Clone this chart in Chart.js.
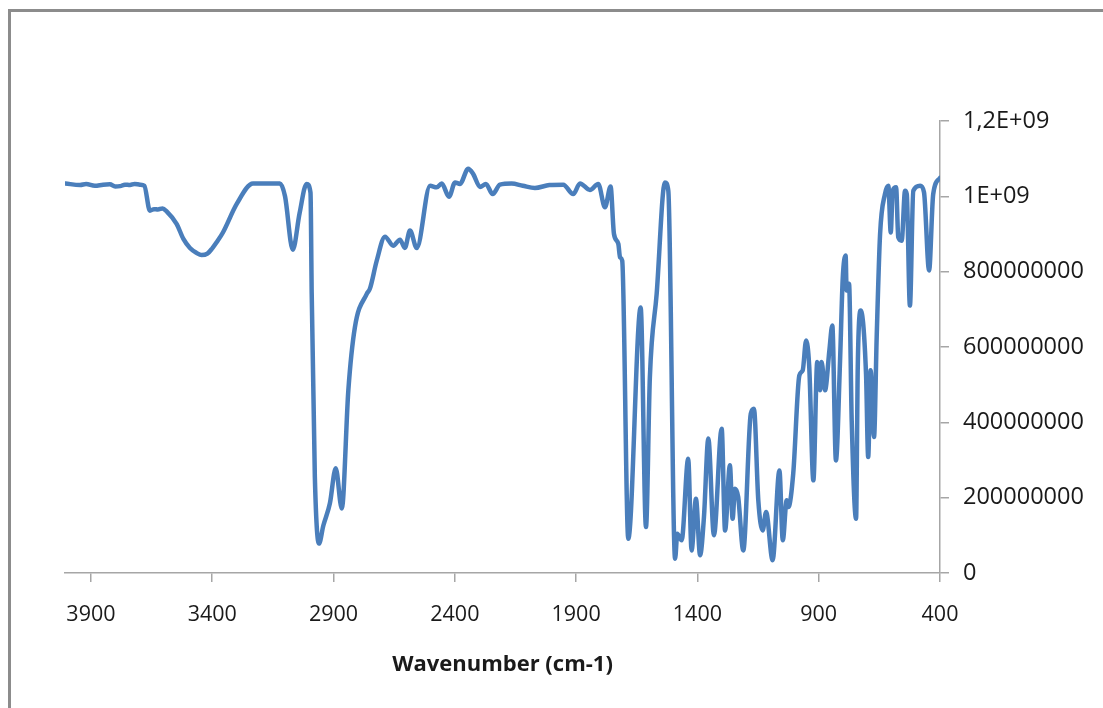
<!DOCTYPE html>
<html>
<head>
<meta charset="utf-8">
<script src="https://cdn.jsdelivr.net/npm/chart.js@4/dist/chart.umd.min.js"></script>
<style>
  html, body { margin: 0; padding: 0; background: #ffffff; }
  #wrap { position: relative; width: 1103px; height: 708px; overflow: hidden; }
  #frame { position: absolute; left: 8px; top: 9px; width: 1200px; height: 800px;
           border-left: 3px solid #8c8c8c; border-top: 3px solid #8c8c8c; }
  canvas { position: absolute; left: 0; top: 0; }
</style>
</head>
<body>
<div id="wrap">
  <div id="frame"></div>
  <canvas id="c" width="1103" height="708"></canvas>
</div>
<script>
// Wavenumbers (cm-1), left to right
const wavenumbers = [4005,3945,3920,3884,3850,3822,3800,3780,3760,3739,3720,3698,3680,3657,3640,3624,3605,3588,3547,3519,3492,3465,3444,3420,3400,3382,3356,3299,3232,3180,3121,3100,3068,3040,3011,2995,2990,2977,2960,2942,2915,2891,2866,2839,2812,2763,2750,2722,2688,2654,2626,2606,2585,2557,2502,2475,2454,2424,2399,2379,2345,2324,2296,2272,2244,2214,2166,2120,2070,2010,1953,1912,1884,1843,1809,1781,1758,1744,1726,1719,1710,1685,1634,1612,1596,1568,1534,1520,1492,1483,1465,1438,1424,1406,1389,1373,1355,1332,1300,1286,1266,1255,1245,1232,1211,1180,1167,1149,1131,1117,1090,1062,1048,1032,1025,1005,980,966,952,939,922,906,895,888,874,856,844,829,812,801,789,785,775,764,746,739,727,705,696,686,672,661,647,627,613,603,595,581,572,558,544,537,524,510,482,466,445,428,400];
// Intensity values
const intensity = [1034e6,1030e6,1033e6,1028e6,1031e6,1032e6,1026e6,1027e6,1031e6,1030e6,1033e6,1031e6,1028e6,962e6,966e6,965e6,968e6,960e6,927e6,887e6,863e6,850e6,844e6,848e6,862e6,878e6,904e6,980e6,1034e6,1034e6,1034e6,1000e6,858e6,955e6,1033e6,1010e6,741e6,254e6,78e6,126e6,185e6,278e6,171e6,485e6,652e6,741e6,755e6,829e6,893e6,869e6,885e6,863e6,909e6,863e6,1028e6,1024e6,1034e6,999e6,1037e6,1033e6,1073e6,1059e6,1025e6,1033e6,1006e6,1031e6,1034e6,1028e6,1022e6,1030e6,1031e6,1006e6,1034e6,1017e6,1033e6,971e6,1026e6,900e6,874e6,838e6,829e6,91e6,705e6,122e6,520e6,741e6,1037e6,1015e6,38e6,104e6,87e6,303e6,60e6,197e6,47e6,149e6,357e6,100e6,383e6,113e6,286e6,144e6,224e6,202e6,60e6,423e6,436e6,193e6,113e6,162e6,34e6,272e6,87e6,193e6,175e6,264e6,524e6,538e6,617e6,547e6,246e6,560e6,485e6,560e6,485e6,591e6,657e6,299e6,564e6,781e6,843e6,750e6,768e6,405e6,144e6,547e6,697e6,529e6,308e6,538e6,361e6,626e6,900e6,1006e6,1028e6,904e6,1015e6,1024e6,891e6,882e6,1015e6,1006e6,710e6,1015e6,1028e6,1011e6,803e6,1006e6,1049e6];
// Axis ticks
const xTickValues = [3900, 3400, 2900, 2400, 1900, 1400, 900, 400];
const yTickValues = [0, 200000000, 400000000, 600000000, 800000000, 1000000000, 1200000000];
const yTickLabels = ["0", "200000000", "400000000", "600000000", "800000000", "1E+09", "1,2E+09"];
const xTitle = "Wavenumber (cm-1)";

const points = wavenumbers.map((w, i) => ({ x: w, y: intensity[i] }));
const axisColor = '#a6a6a6';
const fontFamily = "'Open Sans', 'DejaVu Sans', sans-serif";

new Chart(document.getElementById('c'), {
  type: 'line',
  data: {
    datasets: [{
      data: points,
      borderColor: '#4a7ebb',
      borderWidth: 4.5,
      pointRadius: 0,
      fill: false,
      cubicInterpolationMode: 'monotone',
      borderJoinStyle: 'round',
      borderCapStyle: 'round'
    }]
  },
  options: {
    responsive: false,
    animation: false,
    devicePixelRatio: 1,
    layout: { padding: { left: 65, top: 121, right: 0, bottom: 0 } },
    plugins: { legend: { display: false }, tooltip: { enabled: false } },
    scales: {
      x: {
        type: 'linear',
        position: 'bottom',
        reverse: true,
        min: 400,
        max: 4007,
        afterBuildTicks: (scale) => { scale.ticks = xTickValues.map(v => ({ value: v })); },
        afterFit: (scale) => { scale.height = 135; },
        grid: { drawOnChartArea: false, drawTicks: true, tickLength: 9, color: axisColor, lineWidth: 1.5 },
        border: { display: true, color: axisColor, width: 1.5 },
        ticks: {
          autoSkip: false, maxRotation: 0, padding: 20,
          color: '#1a1a1a', font: { family: fontFamily, size: 21.5 },
          callback: (v) => String(v)
        },
        title: {
          display: true, text: xTitle, color: '#1a1a1a',
          font: { family: fontFamily, size: 22, weight: 'bold' },
          padding: { top: 0, bottom: 30 }
        }
      },
      y: {
        type: 'linear',
        position: 'right',
        min: 0,
        max: 1200000000,
        afterBuildTicks: (scale) => { scale.ticks = yTickValues.map(v => ({ value: v })); },
        afterFit: (scale) => { scale.width = 163; },
        grid: { drawOnChartArea: false, drawTicks: true, tickLength: 9, color: axisColor, lineWidth: 1.5 },
        border: { display: true, color: axisColor, width: 1.5 },
        ticks: {
          autoSkip: false, padding: 14,
          color: '#1a1a1a', font: { family: fontFamily, size: 23.5 },
          callback: (v, i) => yTickLabels[i]
        }
      }
    }
  }
});
</script>
</body>
</html>
